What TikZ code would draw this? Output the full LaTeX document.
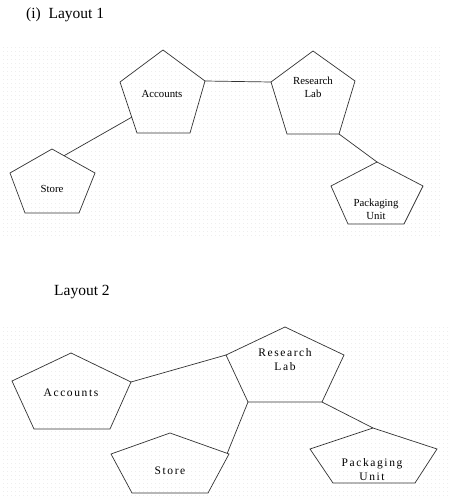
\documentclass[tikz,border=0pt]{standalone}
\usepackage{fontspec}
\setmainfont{Liberation Serif}
\usetikzlibrary{calc,patterns.meta}
\newcommand\mypent[6]{%
  \coordinate (#1-t) at #2; \coordinate (#1-l) at #3; \coordinate (#1-r) at #4;
  \coordinate (#1-bl) at #5; \coordinate (#1-br) at #6;
  \draw[pentline] (#1-t) -- (#1-r) -- (#1-br) -- (#1-bl) -- (#1-l) -- cycle;}
\begin{document}
\begin{tikzpicture}[x=1pt,y=-1pt,
  pentline/.style={draw=black!80,line width=0.7pt,line join=miter},
  conn/.style={draw=black!80,line width=0.7pt},
  title/.style={font=\fontsize{15.5}{18}\selectfont,anchor=west,inner sep=0pt},
  lbla/.style={font=\fontsize{10.8}{13}\selectfont,align=center,inner sep=0pt},
  lblb/.style={font=\fontsize{11.5}{14}\selectfont\addfontfeature{LetterSpace=14},align=center,inner sep=0pt},
  dotbg/.style={pattern={Dots[radius=0.35pt,distance=4pt]},pattern color=black!18,draw=none}]
\useasboundingbox (0,0) rectangle (453,503);
\fill[white] (0,0) rectangle (453,503);
\path[dotbg] (3,48) rectangle (441,235);
\path[dotbg] (3,327) rectangle (448,497);
% Layout 1
\node[title] (t1) at (26,15) {(i)\ \ Layout 1};
\mypent{a1}{(163,50)}{(120,82)}{(205,81)}{(137,133)}{(190,133)}
\mypent{r1}{(313,51)}{(271,82)}{(355,81)}{(287,134)}{(339,134)}
\mypent{s1}{(52,149)}{(10,173)}{(95,173)}{(25,213)}{(79,213)}
\mypent{p1}{(377,162)}{(331,186)}{(423,186)}{(348,224)}{(404,224)}
\node[lbla] (na1) at (162,94) {Accounts};
\node[lbla] (nr1) at (313,87) {Research\\Lab};
\node[lbla] (ns1) at (52,189) {Store};
\node[lbla] (np1) at (376,209) {Packaging\\Unit};
\coordinate (s1c) at ($(s1-t)!0.28!(s1-r)$);
\coordinate (a1c) at ($(a1-l)!0.69!(a1-bl)$);
\draw[conn] (a1-r) -- (r1-l);
\draw[conn] (s1c) -- (a1c);
\draw[conn] (r1-br) -- (p1-t);
% Layout 2
\node[title] (t2) at (54,292) {Layout 2};
\mypent{a2}{(71,353)}{(12,381)}{(131,382)}{(34,429)}{(110,429)}
\mypent{r2}{(285,327)}{(226,355)}{(344,355)}{(248,402)}{(322,402)}
\mypent{s2}{(170,433)}{(111,454)}{(229,454)}{(132,493)}{(208,493)}
\mypent{p2}{(373,428)}{(310,449)}{(437,449)}{(333,483)}{(415,483)}
\node[lblb] (na2) at (71,393) {Accounts};
\node[lblb] (nr2) at (285,360) {Research\\Lab};
\node[lblb] (ns2) at (170,471) {Store};
\node[lblb] (np2) at (372,470) {Packaging\\Unit};
\coordinate (s2c) at ($(s2-t)!0.97!(s2-r)$);
\draw[conn] (a2-r) -- (r2-l);
\draw[conn] (r2-bl) -- (s2c);
\draw[conn] (r2-br) -- (p2-t);
\end{tikzpicture}
\end{document}
